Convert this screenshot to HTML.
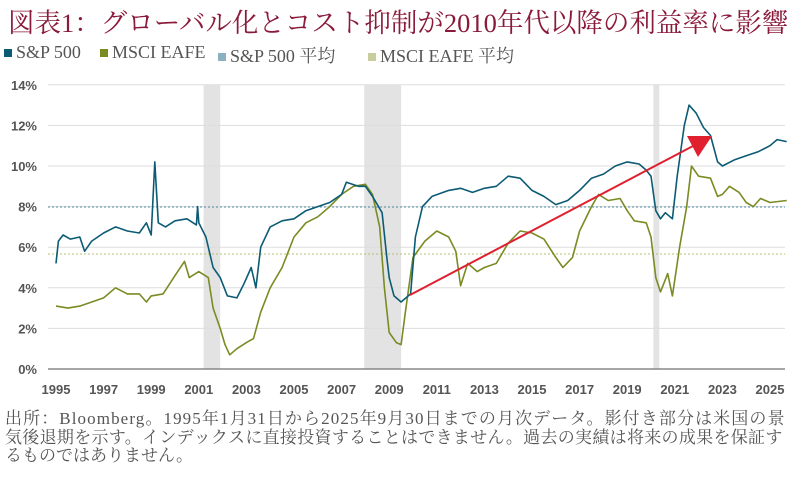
<!DOCTYPE html><html><head><meta charset="utf-8"><style>
body{margin:0;width:800px;height:480px;background:#fff;overflow:hidden;font-family:"Liberation Serif","Noto Serif CJK SC",serif}
.t{position:absolute;left:8px;top:1px;font-size:26.5px;color:#8a1a3a;white-space:nowrap}
.lg{position:absolute;top:42px;font-size:18px;color:#555;white-space:nowrap}
.lg i{display:inline-block;width:8px;height:8px;margin-right:4px;vertical-align:1px}
.ft{position:absolute;left:5px;top:410px;font-size:17px;line-height:18.5px;color:#555;white-space:nowrap}
</style></head><body>
<div class="t">図表1：グローバル化とコスト抑制が2010年代以降の利益率に影響</div>
<div class="lg" style="left:4px"><i style="background:#0c5b74"></i>S&amp;P 500</div>
<div class="lg" style="left:100px"><i style="background:#7a8b23"></i>MSCI EAFE</div>
<div class="lg" style="left:218px"><i style="background:#8bb0c0"></i>S&amp;P 500 平均</div>
<div class="lg" style="left:368px"><i style="background:#c9cd9e"></i>MSCI EAFE 平均</div>
<svg id="s" width="800" height="480" style="position:absolute;left:0;top:0" font-family="Liberation Sans,sans-serif"></svg>
<div class="ft"><span style="letter-spacing:1.1px">出所：Bloomberg。1995年1月31日から2025年9月30日までの月次データ。影付き部分は米国の景</span><br><span style="letter-spacing:0.3px">気後退期を示す。インデックスに直接投資することはできません。過去の実績は将来の成果を保証す</span><br>るものではありません。</div>
<script>
var X=y=>56+(y-1995)*23.8,Y=v=>369-v*20.3,h='';
[[2001.2,2001.9],[2007.95,2009.5],[2020.1,2020.35]].forEach(r=>h+=`<rect x="${X(r[0])}" y="85" width="${X(r[1])-X(r[0])}" height="284" fill="#e3e3e3"/>`);
for(var v=2;v<=14;v+=2)h+=`<line x1="48" x2="785" y1="${Y(v)}" y2="${Y(v)}" stroke="#ddd"/>`;
h+=`<line x1="48" x2="785" y1="369" y2="369" stroke="#888" stroke-width="1.5"/>`;
for(v=0;v<=14;v+=2)h+=`<text x="37" y="${Y(v)+5}" font-size="13" font-weight="bold" fill="#555" text-anchor="end">${v}%</text>`;
for(var yr=1995;yr<=2025;yr+=2)h+=`<text x="${X(yr)}" y="394" font-size="13" font-weight="bold" fill="#555" text-anchor="middle">${yr}</text>`;
h+=`<line x1="48" x2="785" y1="207" y2="207" stroke="#4a8aa8" stroke-dasharray="2,2"/>`;
h+=`<line x1="48" x2="785" y1="254" y2="254" stroke="#b8bc70" stroke-dasharray="2,2"/>`;
var sp=[1995,5.2,1995.1,6.3,1995.3,6.6,1995.6,6.4,1996,6.5,1996.2,5.8,1996.5,6.3,1997,6.7,1997.5,7.0,1998,6.8,1998.5,6.7,1998.8,7.2,1999,6.6,1999.15,10.2,1999.3,7.2,1999.6,7.0,2000,7.3,2000.5,7.4,2000.9,7.1,2000.95,8.0,2001,7.2,2001.3,6.5,2001.6,5.0,2001.9,4.5,2002.2,3.6,2002.6,3.5,2002.9,4.2,2003.2,5.0,2003.4,4.0,2003.6,6.0,2004,7.0,2004.5,7.3,2005,7.4,2005.5,7.8,2006,8.0,2006.5,8.2,2007,8.6,2007.2,9.2,2007.7,9.0,2008,9.0,2008.3,8.5,2008.7,7.7,2008.9,5.5,2009,4.5,2009.2,3.6,2009.5,3.3,2009.9,3.7,2010.1,6.5,2010.4,8.0,2010.8,8.5,2011.5,8.8,2012,8.9,2012.5,8.7,2013,8.9,2013.5,9.0,2014,9.5,2014.5,9.4,2015,8.8,2015.5,8.5,2016,8.1,2016.5,8.3,2017,8.8,2017.5,9.4,2018,9.6,2018.5,10.0,2019,10.2,2019.5,10.1,2019.8,9.8,2020,9.5,2020.2,7.8,2020.4,7.4,2020.6,7.7,2020.9,7.4,2021.1,9.5,2021.4,12.0,2021.6,13.0,2021.9,12.6,2022.2,11.9,2022.5,11.5,2022.8,10.2,2023,10.0,2023.5,10.3,2024,10.5,2024.5,10.7,2025,11.0,2025.3,11.3,2025.7,11.2];
var ea=[1995,3.1,1995.5,3.0,1996,3.1,1996.5,3.3,1997,3.5,1997.5,4.0,1998,3.7,1998.5,3.7,1998.8,3.3,1999,3.6,1999.5,3.7,2000,4.6,2000.4,5.3,2000.6,4.5,2001,4.8,2001.4,4.5,2001.6,3.0,2001.9,2.0,2002.1,1.2,2002.3,0.7,2002.6,1.0,2003,1.3,2003.3,1.5,2003.6,2.8,2004,4.0,2004.5,5.0,2005,6.5,2005.5,7.2,2006,7.5,2006.5,8.0,2007,8.6,2007.5,9.0,2008,9.1,2008.3,8.6,2008.6,7.0,2008.8,4.0,2009,1.8,2009.3,1.3,2009.5,1.2,2009.7,3.0,2010,5.5,2010.5,6.3,2011,6.8,2011.5,6.5,2011.8,5.8,2012,4.1,2012.3,5.2,2012.7,4.8,2013,5.0,2013.5,5.2,2014,6.2,2014.5,6.8,2015,6.7,2015.5,6.4,2016,5.5,2016.3,5.0,2016.7,5.5,2017,6.8,2017.5,8.0,2017.8,8.6,2018.2,8.3,2018.7,8.4,2019,7.8,2019.3,7.3,2019.8,7.2,2020,6.5,2020.2,4.5,2020.4,3.8,2020.7,4.7,2020.9,3.6,2021.2,6.0,2021.5,8.0,2021.7,10.0,2022,9.5,2022.5,9.4,2022.8,8.5,2023,8.6,2023.3,9.0,2023.7,8.7,2024,8.2,2024.3,8.0,2024.6,8.4,2025,8.2,2025.7,8.3];
function pl(a,c){var p='';for(var i=0;i<a.length;i+=2)p+=X(a[i]).toFixed(1)+','+Y(a[i+1]).toFixed(1)+' ';return `<polyline points="${p}" fill="none" stroke="${c}" stroke-width="1.6" stroke-linejoin="round"/>`}
h+=pl(ea,'#7a8b23')+pl(sp,'#0c5b74');
h+=`<line x1="410" y1="295" x2="693" y2="146" stroke="#e0202e" stroke-width="2"/><polygon points="712,136 687,136 698,157" fill="#e0202e"/>`;
document.getElementById('s').innerHTML=h;
</script></body></html>
